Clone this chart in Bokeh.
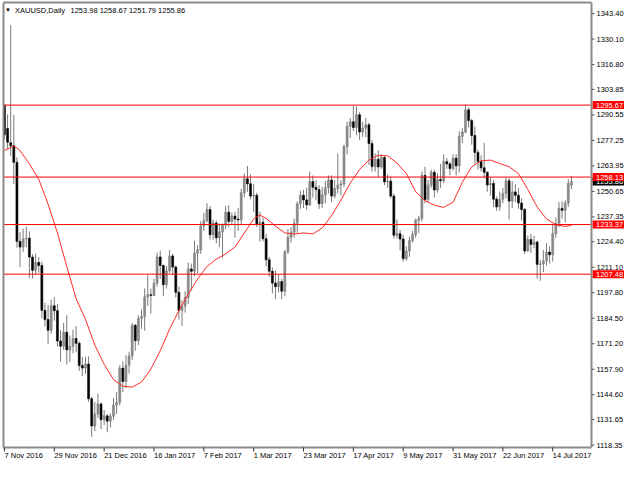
from bokeh.plotting import figure
from bokeh.models import Range1d, ColumnDataSource
from bokeh.core.properties import value
from bokeh.embed import file_html
from bokeh.resources import INLINE

# ---------------- data ----------------
symbol = "XAUUSD,Daily"
header_ohlc = "1253.98 1258.67 1251.79 1255.86"

opens = [1295.6, 1283.5, 1276.0, 1274.5, 1265.8, 1224.6, 1221.6, 1225.8, 1226.2, 1216.4,
         1209.5, 1213.6, 1212.0, 1188.6, 1183.8, 1178.2, 1191.0, 1188.4, 1172.6, 1169.9,
         1177.2, 1168.0, 1169.8, 1173.9, 1171.4, 1159.8, 1158.5, 1160.6, 1142.5, 1128.3,
         1134.6, 1139.8, 1131.6, 1133.6, 1130.8, 1133.4, 1139.2, 1140.6, 1158.5, 1151.5,
         1160.0, 1164.8, 1180.8, 1172.8, 1184.4, 1185.4, 1195.6, 1196.8, 1196.4, 1202.8,
         1216.5, 1212.0, 1202.0, 1209.2, 1217.0, 1211.2, 1198.0, 1188.6, 1190.8, 1195.4,
         1210.2, 1209.0, 1218.4, 1220.2, 1232.6, 1235.4, 1241.2, 1228.0, 1234.2, 1226.4,
         1229.6, 1233.0, 1239.8, 1235.0, 1237.8, 1236.2, 1235.8, 1250.0, 1257.2, 1254.6,
         1248.2, 1248.6, 1233.8, 1234.5, 1226.0, 1215.0, 1209.0, 1202.8, 1201.0, 1203.6,
         1198.6, 1219.2, 1226.8, 1229.4, 1234.0, 1244.2, 1248.6, 1246.2, 1243.6, 1255.8,
         1252.8, 1251.6, 1244.2, 1248.8, 1252.6, 1256.6, 1248.2, 1252.2, 1254.0, 1254.6,
         1274.0, 1284.6, 1287.0, 1284.0, 1290.6, 1281.6, 1283.6, 1285.4, 1275.6, 1263.6,
         1267.4, 1263.4, 1268.4, 1255.6, 1256.0, 1248.2, 1227.8, 1228.6, 1225.8, 1215.6,
         1219.6, 1225.0, 1228.2, 1235.6, 1236.4, 1259.0, 1246.4, 1254.0, 1260.6, 1251.4,
         1256.8, 1256.2, 1266.2, 1265.0, 1262.6, 1268.0, 1264.0, 1279.4, 1281.6, 1293.2,
         1287.6, 1279.8, 1271.0, 1266.2, 1263.0, 1260.6, 1254.0, 1254.8, 1246.6, 1242.6,
         1246.6, 1249.6, 1256.2, 1245.6, 1250.4, 1248.6, 1244.6, 1241.2, 1219.6, 1225.6,
         1223.0, 1224.2, 1212.6, 1212.8, 1214.4, 1219.0, 1217.6, 1228.6, 1234.0, 1241.8,
         1240.8, 1244.6, 1253.98]

highs = [1296.2, 1290.8, 1337.4, 1290.6, 1268.5, 1229.4, 1231.2, 1232.3, 1229.8, 1217.8,
         1218.2, 1216.4, 1214.0, 1192.5, 1191.4, 1194.2, 1195.5, 1191.9, 1178.2, 1182.0,
         1186.0, 1175.5, 1178.5, 1180.5, 1172.5, 1164.4, 1164.5, 1164.6, 1143.5, 1140.8,
         1145.2, 1140.6, 1136.6, 1134.4, 1134.8, 1142.8, 1146.0, 1160.0, 1162.0, 1165.2,
         1167.0, 1182.0, 1181.5, 1186.0, 1189.0, 1200.0, 1207.0, 1199.9, 1205.0, 1218.7,
         1219.7, 1212.5, 1211.8, 1220.0, 1218.2, 1212.0, 1201.0, 1194.0, 1198.5, 1213.5,
         1213.0, 1225.0, 1222.6, 1235.0, 1239.5, 1244.5, 1243.0, 1236.0, 1235.5, 1234.0,
         1234.0, 1243.0, 1243.5, 1239.5, 1240.0, 1242.0, 1252.0, 1260.0, 1264.0, 1259.5,
         1254.5, 1250.0, 1240.0, 1237.0, 1228.5, 1216.5, 1211.0, 1209.5, 1207.5, 1205.0,
         1220.0, 1231.0, 1232.0, 1236.5, 1245.5, 1251.0, 1251.5, 1252.5, 1261.0, 1259.0,
         1256.5, 1254.0, 1253.0, 1256.0, 1259.0, 1259.0, 1256.5, 1270.5, 1256.5, 1275.0,
         1287.0, 1289.0, 1295.5, 1295.0, 1292.0, 1287.0, 1289.0, 1286.5, 1277.5, 1270.5,
         1272.0, 1270.0, 1269.0, 1259.5, 1258.5, 1249.5, 1236.0, 1230.5, 1228.0, 1222.0,
         1227.0, 1230.0, 1236.5, 1238.0, 1261.0, 1263.5, 1256.5, 1262.0, 1262.0, 1260.0,
         1265.0, 1270.0, 1268.0, 1266.0, 1270.0, 1270.0, 1282.0, 1283.5, 1296.0, 1294.5,
         1288.5, 1284.5, 1272.5, 1269.5, 1276.0, 1261.0, 1258.0, 1256.5, 1248.0, 1250.5,
         1252.5, 1258.0, 1257.5, 1256.0, 1254.5, 1252.5, 1247.0, 1242.0, 1227.5, 1228.5,
         1227.5, 1225.0, 1215.0, 1220.0, 1223.5, 1222.0, 1233.5, 1237.0, 1245.0, 1245.5,
         1246.0, 1257.0, 1258.67]

lows = [1277.8, 1272.6, 1269.0, 1254.5, 1221.3, 1211.2, 1219.0, 1221.5, 1205.5, 1205.2,
        1207.0, 1208.2, 1184.5, 1180.2, 1171.1, 1176.5, 1183.3, 1169.6, 1161.9, 1168.0,
        1160.3, 1161.6, 1166.2, 1166.8, 1157.0, 1154.2, 1155.5, 1141.0, 1122.6, 1125.6,
        1132.5, 1126.6, 1128.8, 1125.0, 1127.5, 1131.5, 1134.5, 1139.0, 1146.0, 1148.0,
        1155.6, 1162.8, 1167.5, 1170.5, 1179.0, 1178.0, 1191.0, 1187.0, 1196.0, 1201.0,
        1205.0, 1196.0, 1200.0, 1208.0, 1207.0, 1195.2, 1183.8, 1180.5, 1187.5, 1192.0,
        1199.0, 1206.5, 1208.0, 1218.0, 1230.0, 1234.5, 1225.5, 1225.5, 1223.5, 1221.5,
        1216.0, 1231.0, 1232.0, 1233.0, 1226.5, 1230.0, 1233.5, 1247.5, 1250.5, 1246.5,
        1240.0, 1232.0, 1224.5, 1224.5, 1211.5, 1206.0, 1197.5, 1194.5, 1198.0, 1194.5,
        1196.0, 1218.0, 1224.0, 1226.5, 1229.0, 1241.5, 1242.0, 1241.0, 1243.0, 1247.5,
        1246.0, 1241.5, 1242.0, 1244.5, 1249.5, 1245.0, 1247.0, 1249.5, 1248.5, 1253.0,
        1270.0, 1278.5, 1282.0, 1280.0, 1277.5, 1279.0, 1279.0, 1264.5, 1261.0, 1261.0,
        1258.0, 1262.5, 1254.0, 1252.5, 1247.0, 1226.0, 1226.0, 1220.0, 1214.0, 1214.5,
        1216.5, 1224.0, 1226.5, 1229.0, 1235.0, 1244.5, 1245.0, 1252.5, 1247.5, 1250.0,
        1252.5, 1255.0, 1262.5, 1259.0, 1261.5, 1259.0, 1260.5, 1276.0, 1281.0, 1284.0,
        1275.0, 1265.0, 1262.0, 1261.0, 1257.5, 1250.5, 1248.5, 1242.5, 1240.5, 1240.5,
        1244.5, 1247.0, 1236.0, 1242.0, 1245.0, 1241.5, 1235.5, 1218.0, 1219.0, 1218.5,
        1221.0, 1205.0, 1204.0, 1208.5, 1212.0, 1213.0, 1214.0, 1226.5, 1232.0, 1236.5,
        1234.5, 1242.5, 1251.79]

closes = [1280.2, 1276.3, 1274.5, 1265.8, 1224.6, 1221.6, 1225.8, 1226.2, 1216.4, 1209.5,
          1213.6, 1212.0, 1188.6, 1183.8, 1178.2, 1191.0, 1188.4, 1172.6, 1169.9, 1177.2,
          1168.0, 1169.8, 1173.9, 1171.4, 1159.8, 1158.5, 1160.6, 1142.5, 1128.3, 1134.6,
          1139.8, 1131.6, 1133.6, 1130.8, 1133.4, 1139.2, 1140.6, 1158.5, 1151.5, 1160.0,
          1164.8, 1180.8, 1172.8, 1184.4, 1185.4, 1195.6, 1196.8, 1196.4, 1202.8, 1216.5,
          1212.0, 1202.0, 1209.2, 1217.0, 1211.2, 1198.0, 1188.6, 1190.8, 1195.4, 1210.2,
          1209.0, 1218.4, 1220.2, 1232.6, 1235.4, 1241.2, 1228.0, 1234.2, 1226.4, 1229.6,
          1233.0, 1239.8, 1235.0, 1237.8, 1236.2, 1235.8, 1250.0, 1257.2, 1254.6, 1248.2,
          1248.6, 1233.8, 1234.5, 1226.0, 1215.0, 1209.0, 1202.8, 1201.0, 1203.6, 1198.6,
          1219.2, 1226.8, 1229.4, 1234.0, 1244.2, 1248.6, 1246.2, 1243.6, 1255.8, 1252.8,
          1251.6, 1244.2, 1248.8, 1252.6, 1256.6, 1248.2, 1252.2, 1254.0, 1254.6, 1274.0,
          1284.6, 1287.0, 1284.0, 1290.6, 1281.6, 1283.6, 1285.4, 1275.6, 1263.6, 1267.4,
          1263.4, 1268.4, 1255.6, 1256.0, 1248.2, 1227.8, 1228.6, 1225.8, 1215.6, 1219.6,
          1225.0, 1228.2, 1235.6, 1236.4, 1259.0, 1246.4, 1254.0, 1260.6, 1251.4, 1256.8,
          1256.2, 1266.2, 1265.0, 1262.6, 1268.0, 1264.0, 1279.4, 1281.6, 1293.2, 1287.6,
          1279.8, 1271.0, 1266.2, 1263.0, 1260.6, 1254.0, 1254.8, 1246.6, 1242.6, 1246.6,
          1249.6, 1256.2, 1245.6, 1250.4, 1248.6, 1244.6, 1241.2, 1219.6, 1225.6, 1223.0,
          1224.2, 1212.6, 1212.8, 1214.4, 1219.0, 1217.6, 1228.6, 1234.0, 1241.8, 1240.8,
          1244.6, 1254.8, 1255.86]

# moving average (red line), sampled at bar indices
ma_bars = [0, 3, 5, 8, 11, 14, 17, 20, 23, 26, 29, 32, 35, 38, 41, 44, 47, 50, 53, 56,
           59, 62, 65, 68, 71, 74, 77, 80, 82, 84, 87, 90, 93, 96, 99, 102, 105, 108, 111,
           114, 117, 120, 123, 126, 129, 132, 135, 138, 141, 144, 147, 150, 153, 156, 159,
           162, 165, 168, 171, 174, 177, 180, 182]
ma_vals = [1272.0, 1274.4, 1272.0, 1265.0, 1257.0, 1244.0, 1229.0, 1211.5, 1194.7, 1184.0,
           1170.5, 1160.5, 1152.5, 1149.0, 1148.6, 1151.2, 1158.0, 1167.5, 1178.8, 1188.5,
           1197.0, 1205.0, 1211.5, 1215.3, 1218.0, 1221.6, 1229.0, 1236.3, 1238.3, 1236.6,
           1232.5, 1229.0, 1228.4, 1229.0, 1228.5, 1231.5, 1238.0, 1246.0, 1255.0, 1262.0,
           1267.0, 1269.5, 1269.2, 1265.5, 1260.0, 1250.5, 1245.8, 1243.5, 1242.3, 1245.0,
           1255.5, 1263.5, 1266.6, 1267.0, 1265.2, 1263.5, 1260.0, 1251.7, 1242.5, 1236.3,
           1233.3, 1232.4, 1232.9]

date_tick_bars = [0, 16, 32, 48, 64, 80, 96, 112, 128, 144, 160, 176]
date_tick_labels = ["7 Nov 2016", "29 Nov 2016", "21 Dec 2016", "16 Jan 2017", "7 Feb 2017",
                    "1 Mar 2017", "23 Mar 2017", "17 Apr 2017", "9 May 2017", "31 May 2017",
                    "22 Jun 2017", "14 Jul 2017"]

price_ticks = [1343.40, 1330.10, 1316.80, 1303.85, 1290.55, 1277.25, 1263.95, 1250.65,
               1237.35, 1224.40, 1211.10, 1197.80, 1184.50, 1171.20, 1157.90, 1144.60,
               1131.65, 1118.35]

levels = [1295.67, 1258.13, 1233.37, 1207.48]
last_price = 1255.86

# ---------------- layout ----------------
FONT = value("Liberation Sans")
FS = "7.5px"
W, H = 624, 464
ML, MR, MT, MB = 3, 33, 2, 17          # chart-area margins (px) inside the canvas
x_start, x_end = -0.31, 188.45          # visible bar range of the chart area
y_lo, y_hi = 1117.07, 1349.19           # visible price range of the chart area
ux = (W - ML - MR) / (x_end - x_start)  # px per bar
uy = (H - MT - MB) / (y_hi - y_lo)      # px per price unit

p = figure(width=W, height=H, output_backend="svg", toolbar_location=None,
           x_range=Range1d(x_start - ML / ux, x_end + MR / ux),
           y_range=Range1d(y_lo - MB / uy, y_hi + MT / uy),
           x_axis_type=None, y_axis_type=None, min_border=0)
p.xgrid.visible = False
p.ygrid.visible = False
p.outline_line_color = None
p.background_fill_color = "white"
p.border_fill_color = "white"

n = len(closes)
idx = list(range(n))
up = [closes[i] >= opens[i] for i in idx]

# candles
wicks = ColumnDataSource(dict(x=idx, h=highs, l=lows))
p.segment(x0="x", y0="h", x1="x", y1="l", source=wicks, line_color="#7a7a7a", line_width=1)
bull = ColumnDataSource(dict(x=[i for i in idx if up[i]],
                             top=[closes[i] for i in idx if up[i]],
                             bottom=[opens[i] for i in idx if up[i]]))
bear = ColumnDataSource(dict(x=[i for i in idx if not up[i]],
                             top=[opens[i] for i in idx if not up[i]],
                             bottom=[closes[i] for i in idx if not up[i]]))
p.vbar(x="x", top="top", bottom="bottom", width=0.62, source=bull,
       fill_color="#8e8e8e", line_color="#7a7a7a", line_width=0.6)
p.vbar(x="x", top="top", bottom="bottom", width=0.62, source=bear,
       fill_color="black", line_color="black", line_width=0.6)

# moving average
p.line(ma_bars, ma_vals, line_color="#ff2a2a", line_width=1)

# horizontal levels
k = len(levels)
p.segment(x0=[x_start] * k, x1=[x_end] * k, y0=levels, y1=levels,
          line_color="#ff0000", line_width=1)

# chart-area border
p.multi_line(xs=[[x_start, x_start], [x_end, x_end], [x_start, x_end], [x_start, x_end]],
             ys=[[y_lo, y_hi], [y_lo, y_hi], [y_lo, y_lo], [y_hi, y_hi]],
             line_color="#8c8c8c", line_width=2)

# right price scale
m = len(price_ticks)
p.segment(x0=[x_end] * m, x1=[x_end + 3 / ux] * m, y0=price_ticks, y1=price_ticks,
          line_color="#555555", line_width=1)
p.text(x=[x_end + 5 / ux] * m, y=price_ticks, text=[f"{t:.2f}" for t in price_ticks],
       text_font=FONT, text_font_size=FS, text_color="black",
       text_align="left", text_baseline="middle")

# bottom date scale
d = len(date_tick_bars)
p.segment(x0=date_tick_bars, x1=date_tick_bars, y0=[y_lo] * d, y1=[y_lo - 4 / uy] * d,
          line_color="#333333", line_width=1)
p.text(x=date_tick_bars, y=[y_lo - 3.5 / uy] * d, text=date_tick_labels,
       text_font=FONT, text_font_size=FS, text_color="black",
       text_align="left", text_baseline="top")

# price tags
x_right = x_end + MR / ux
tag_left = x_end + 1.2 / ux
half = 4 / uy
p.quad(left=[tag_left], right=[x_right], top=[last_price + half], bottom=[last_price - half],
       fill_color="black", line_color=None)
p.text(x=[x_end + 4.5 / ux], y=[last_price], text=[f"{last_price:.2f}"],
       text_font=FONT, text_font_size=FS, text_color="white",
       text_align="left", text_baseline="middle")
for lv in levels:
    p.quad(left=[tag_left], right=[x_right], top=[lv + half], bottom=[lv - half],
           fill_color="#ff0000", line_color=None)
    p.text(x=[x_end + 4.5 / ux], y=[lv], text=[f"{lv:.2f}"],
           text_font=FONT, text_font_size=FS, text_color="white",
           text_align="left", text_baseline="middle")

# header
y_head = y_hi - 7.5 / uy
p.text(x=[x_start + 4.5 / ux], y=[y_head], text=["\u25bc"], text_font=FONT,
       text_font_size="6px", text_color="black", text_align="center", text_baseline="middle")
p.text(x=[x_start + 11.5 / ux], y=[y_head], text=[symbol], text_font=FONT,
       text_font_size=FS, text_color="black", text_align="left", text_baseline="middle")
p.text(x=[x_start + 67 / ux], y=[y_head], text=[header_ohlc], text_font=FONT,
       text_font_size=FS, text_color="black", text_align="left", text_baseline="middle")

open("out.html", "w").write(file_html(p, INLINE))
